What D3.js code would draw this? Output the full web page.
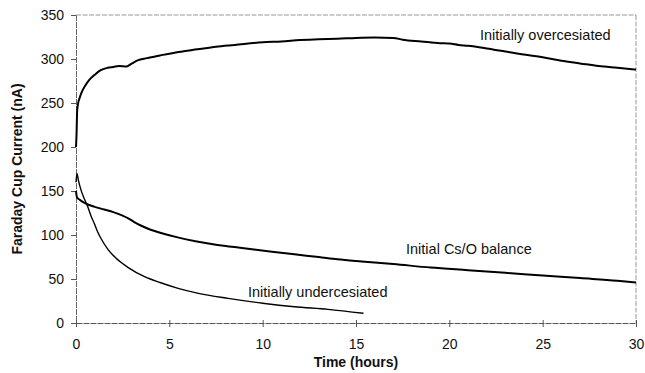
<!DOCTYPE html>
<html><head><meta charset="utf-8">
<script src="https://cdn.jsdelivr.net/npm/d3@7"></script>
<style>
html,body{margin:0;padding:0;background:#fff;}
text{font-family:"Liberation Sans",Arial,sans-serif;fill:#111;}
</style></head>
<body><svg id="c" width="645" height="373"></svg>
<script>
// ---- data ----
const xTicks = [0,5,10,15,20,25,30];
const yTicks = [0,50,100,150,200,250,300,350];

const overT = [0,0.03,0.06,0.1,0.2,0.3,0.5,0.7,1.0,1.3,1.7,2.0,2.3,2.7,3.0,3.3,3.8,4.5,5.5,6.5,7.5,8.5,10,11,12,13,14,15,16,17,17.5,18.5,19.5,20,20.5,21,22,23,24,25,26,27,28,29,30];
const overV = [200,215,240,248,256,262,270,276,282,287,290,291,292,291.5,295,298.5,301,304,308,311,314,316,319,320,321.5,322.5,323,324,324.5,324,322,320,318,317.5,316,315,312,308.5,305,302,298,295,292,290,288];

const balT = [0,0.05,0.2,0.5,1.0,1.5,2.0,2.5,2.8,3.1,3.5,4.0,4.6,5.5,6.4,7.5,9,10.5,11.7,13,14,15.3,17,19,21,23,25,27,29,30];
const balV = [150,143,140,136,132,129,126,122,119,115,110.5,106,102,97,93,89,85,81,78,75,72.5,70,67,63,60,57,54,51,48,46];

const undT = [0,0.05,0.12,0.27,0.45,0.63,0.8,0.98,1.15,1.34,1.7,2.15,2.8,3.67,4.5,5.47,6.5,8.15,10,11.7,13.5,15.4];
const undV = [160,170,163,151,141,132,122,113,104,96,84,73.5,63,52.6,46,39.4,34,28,22.5,18.5,15.5,11];

const seriesLabels = ["Initially overcesiated","Initial Cs/O balance","Initially undercesiated"];
const xTitle = "Time (hours)";
const yTitle = "Faraday Cup Current (nA)";

// ---- layout ----
const L=76, R=636, T=15, B=323;
const svg = d3.select("#c");
const x = d3.scaleLinear().domain([0,30]).range([L,R]);
const y = d3.scaleLinear().domain([0,350]).range([B,T]);

// frame (top/right dashed)
svg.append("line").attr("x1",L).attr("x2",R).attr("y1",T).attr("y2",T)
  .attr("stroke","#999").attr("stroke-dasharray","5,1.5").attr("stroke-width",1);
svg.append("line").attr("x1",R).attr("x2",R).attr("y1",T).attr("y2",B)
  .attr("stroke","#999").attr("stroke-dasharray","5,1.5").attr("stroke-width",1);

// y axis
const ya = svg.append("g").attr("transform",`translate(${L},0)`)
  .call(d3.axisLeft(y).tickValues(yTicks).tickSize(5).tickPadding(7).tickFormat(d3.format("d")));
ya.select(".domain").attr("stroke","#666").attr("stroke-dasharray","6,1");
ya.selectAll(".tick line").attr("stroke","#555");
ya.selectAll("text").style("font-size","14px").style("font-family","Liberation Sans, Arial, sans-serif").attr("fill","#111");

// x axis (cross ticks)
const xa = svg.append("g").attr("transform",`translate(0,${B})`)
  .call(d3.axisBottom(x).tickValues(xTicks).tickSizeInner(4).tickSizeOuter(0).tickPadding(12).tickFormat(d3.format("d")));
xa.select(".domain").attr("stroke","#555").attr("stroke-dasharray","6,1");
xa.selectAll(".tick line").attr("y1",-3).attr("stroke","#555");
xa.selectAll("text").style("font-size","14px").style("font-family","Liberation Sans, Arial, sans-serif").attr("fill","#111");

// lines
const line = d3.line().x(d=>x(d[0])).y(d=>y(d[1])).curve(d3.curveMonotoneX);
function draw(ts,vs,w){
  svg.append("path").datum(ts.map((t,i)=>[t,vs[i]]))
    .attr("d",line).attr("fill","none").attr("stroke","#000").attr("stroke-width",w)
    .attr("stroke-linejoin","round");
}
draw(overT,overV,2);
draw(balT,balV,2);
draw(undT,undV,1.4);

// series labels
const lab = [[seriesLabels[0],480,40],[seriesLabels[1],406,254],[seriesLabels[2],248,297]];
lab.forEach(l=>svg.append("text").attr("x",l[1]).attr("y",l[2]).style("font-size","14.5px").text(l[0]));

// titles
svg.append("text").attr("x",(L+R)/2).attr("y",367).attr("text-anchor","middle")
  .style("font-size","14px").style("font-weight","bold").text(xTitle);
svg.append("text").attr("transform",`translate(22,${(T+B)/2}) rotate(-90)`).attr("text-anchor","middle")
  .style("font-size","14px").style("font-weight","bold").text(yTitle);
</script></body></html>
